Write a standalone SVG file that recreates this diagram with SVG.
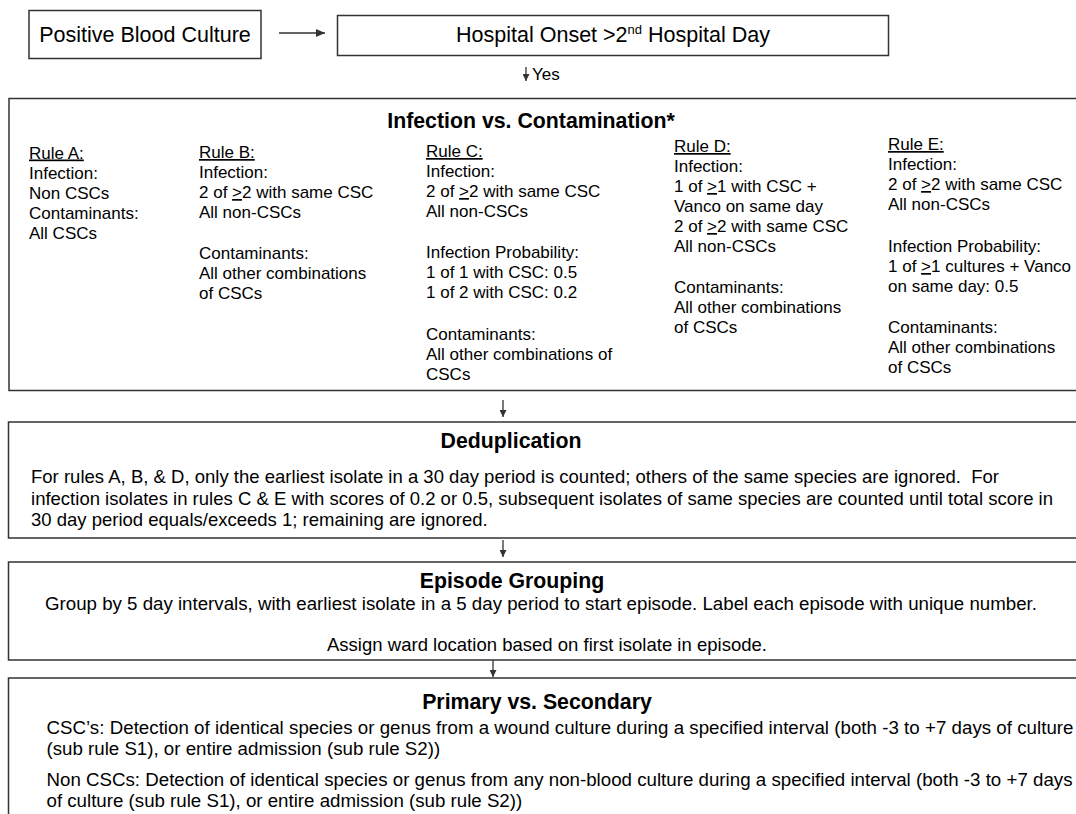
<svg xmlns="http://www.w3.org/2000/svg" width="1076" height="814" viewBox="0 0 1076 814">
<style>
  .box { fill: #ffffff; stroke: #333333; stroke-width: 1.5; }
  text { font-family: "Liberation Sans", Arial, sans-serif; fill: #000000; }
  .big { font-size: 21.5px; }
  .rule { font-size: 17px; }
  .body { font-size: 18.5px; }
  .body2 { font-size: 18.7px; }
  .title { font-size: 21.3px; font-weight: bold; text-anchor: middle; }
  .u { text-decoration: underline; }
  .conn { stroke: #333333; stroke-width: 1.3; fill: none; }
</style>
<defs>
  <marker id="ah" markerUnits="userSpaceOnUse" markerWidth="9" markerHeight="8" refX="9" refY="4" orient="auto">
    <path d="M0,0 L9,4 L0,8 Z" fill="#333333"/>
  </marker>
  <marker id="ahs" markerUnits="userSpaceOnUse" markerWidth="7" markerHeight="7" refX="7" refY="3.5" orient="auto">
    <path d="M0,0 L7,3.5 L0,7 Z" fill="#333333"/>
  </marker>
</defs>
<rect width="1076" height="814" fill="#ffffff"/>

<g id="connectors">
  <path class="conn" d="M279,33 H325" marker-end="url(#ah)"/>
  <path class="conn" d="M526,67 V81" marker-end="url(#ahs)"/>
  <path class="conn" d="M503,400 V417" marker-end="url(#ahs)"/>
  <path class="conn" d="M503,540 V557" marker-end="url(#ahs)"/>
  <path class="conn" d="M493,660 V677" marker-end="url(#ahs)"/>
  <text class="rule" x="532" y="80">Yes</text>
</g>

<g id="positive-blood-culture">
  <rect class="box" x="29" y="10.5" width="232" height="48"/>
  <text class="big" x="145" y="42" text-anchor="middle">Positive Blood Culture</text>
</g>

<g id="hospital-onset">
  <rect class="box" x="337.5" y="15.5" width="551" height="40"/>
  <text class="big" x="613" y="42" text-anchor="middle">Hospital Onset &gt;2<tspan font-size="13" dy="-8">nd</tspan><tspan dy="8"> Hospital Day</tspan></text>
</g>

<g id="infection-vs-contamination">
  <rect class="box" x="9" y="98.5" width="1080" height="292"/>
  <text class="title" x="531" y="128">Infection vs. Contamination*</text>
  <g class="rule">
    <text x="29" y="158.5" class="rule"><tspan class="u">Rule A:</tspan></text>
    <text x="29" y="178.5" class="rule">Infection:</text>
    <text x="29" y="198.5" class="rule">Non CSCs</text>
    <text x="29" y="218.5" class="rule">Contaminants:</text>
    <text x="29" y="238.5" class="rule">All CSCs</text>

    <text x="199" y="158" class="rule"><tspan class="u">Rule B:</tspan></text>
    <text x="199" y="178" class="rule">Infection:</text>
    <text x="199" y="198" class="rule">2 of <tspan class="u">&gt;</tspan>2 with same CSC</text>
    <text x="199" y="218" class="rule">All non-CSCs</text>
    <text x="199" y="259" class="rule">Contaminants:</text>
    <text x="199" y="279" class="rule">All other combinations</text>
    <text x="199" y="299" class="rule">of CSCs</text>

    <text x="426" y="157" class="rule"><tspan class="u">Rule C:</tspan></text>
    <text x="426" y="177" class="rule">Infection:</text>
    <text x="426" y="197" class="rule">2 of <tspan class="u">&gt;</tspan>2 with same CSC</text>
    <text x="426" y="217" class="rule">All non-CSCs</text>
    <text x="426" y="258" class="rule">Infection Probability:</text>
    <text x="426" y="278" class="rule">1 of 1 with CSC: 0.5</text>
    <text x="426" y="298" class="rule">1 of 2 with CSC: 0.2</text>
    <text x="426" y="340" class="rule">Contaminants:</text>
    <text x="426" y="360" class="rule">All other combinations of</text>
    <text x="426" y="380" class="rule">CSCs</text>

    <text x="674" y="152" class="rule"><tspan class="u">Rule D:</tspan></text>
    <text x="674" y="172" class="rule">Infection:</text>
    <text x="674" y="192" class="rule">1 of <tspan class="u">&gt;</tspan>1 with CSC +</text>
    <text x="674" y="212" class="rule">Vanco on same day</text>
    <text x="674" y="232" class="rule">2 of <tspan class="u">&gt;</tspan>2 with same CSC</text>
    <text x="674" y="252" class="rule">All non-CSCs</text>
    <text x="674" y="293" class="rule">Contaminants:</text>
    <text x="674" y="313" class="rule">All other combinations</text>
    <text x="674" y="333" class="rule">of CSCs</text>

    <text x="888" y="150" class="rule"><tspan class="u">Rule E:</tspan></text>
    <text x="888" y="170" class="rule">Infection:</text>
    <text x="888" y="190" class="rule">2 of <tspan class="u">&gt;</tspan>2 with same CSC</text>
    <text x="888" y="210" class="rule">All non-CSCs</text>
    <text x="888" y="252" class="rule">Infection Probability:</text>
    <text x="888" y="272" class="rule">1 of <tspan class="u">&gt;</tspan>1 cultures + Vanco</text>
    <text x="888" y="292" class="rule">on same day: 0.5</text>
    <text x="888" y="333" class="rule">Contaminants:</text>
    <text x="888" y="353" class="rule">All other combinations</text>
    <text x="888" y="373" class="rule">of CSCs</text>
  </g>
</g>

<g id="deduplication">
  <rect class="box" x="8.5" y="422" width="1080" height="116"/>
  <text class="title" x="511" y="448">Deduplication</text>
  <text class="body" x="31" y="483" textLength="968" lengthAdjust="spacing">For rules A, B, &amp; D, only the earliest isolate in a 30 day period is counted; others of the same species are ignored. &#160;For</text>
  <text class="body" x="31" y="505" textLength="1022" lengthAdjust="spacing">infection isolates in rules C &amp; E with scores of 0.2 or 0.5, subsequent isolates of same species are counted until total score in</text>
  <text class="body" x="31" y="526">30 day period equals/exceeds 1; remaining are ignored.</text>
</g>

<g id="episode-grouping">
  <rect class="box" x="8.5" y="562" width="1080" height="98"/>
  <text class="title" x="512" y="588">Episode Grouping</text>
  <text class="body2" x="45" y="610" textLength="992" lengthAdjust="spacing">Group by 5 day intervals, with earliest isolate in a 5 day period to start episode. Label each episode with unique number.</text>
  <text class="body" x="327" y="651" textLength="440" lengthAdjust="spacing">Assign ward location based on first isolate in episode.</text>
</g>

<g id="primary-vs-secondary">
  <rect class="box" x="8.5" y="678" width="1080" height="150"/>
  <text class="title" x="537" y="709">Primary vs. Secondary</text>
  <text class="body2" x="46.5" y="734" textLength="1027" lengthAdjust="spacing">CSC’s: Detection of identical species or genus from a wound culture during a specified interval (both -3 to +7 days of culture</text>
  <text class="body2" x="46.5" y="755">(sub rule S1), or entire admission (sub rule S2))</text>
  <text class="body2" x="46.5" y="786" textLength="1026" lengthAdjust="spacing">Non CSCs: Detection of identical species or genus from any non-blood culture during a specified interval (both -3 to +7 days</text>
  <text class="body2" x="46.5" y="807">of culture (sub rule S1), or entire admission (sub rule S2))</text>
</g>
</svg>
